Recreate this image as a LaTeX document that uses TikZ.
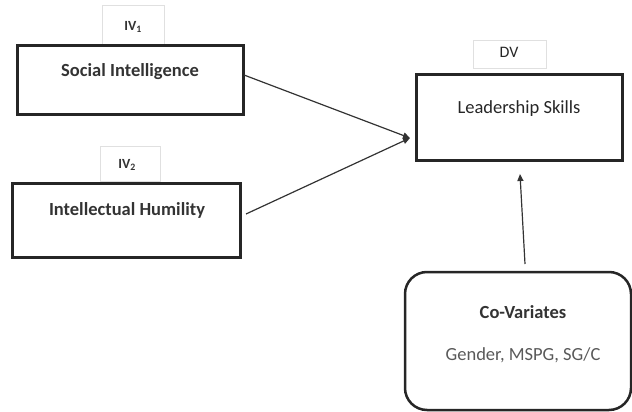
\documentclass[tikz,border=0pt]{standalone}
\usepackage{fontspec}
\setmainfont{Carlito}
\usetikzlibrary{arrows.meta}
\begin{document}
\begin{tikzpicture}[x=1pt,y=-1pt,
  varbox/.style={draw=black!85, line width=3pt},
  lblbox/.style={draw=black!12, line width=0.5pt},
  conn/.style={draw=black!80, line width=1.2pt, -{Triangle[length=7pt,width=6pt]}},
  txt/.style={font=\fontsize{18.5}{20}\selectfont, text=black!85},
  btxt/.style={font=\fontsize{18.5}{20}\selectfont\bfseries, text=black!80},
  lbl/.style={font=\fontsize{14}{16}\selectfont\bfseries, text=black!80}]
\useasboundingbox (0,0) rectangle (632,412);
% label boxes
\draw[lblbox] (102,5) rectangle (164,44);
\node[lbl] (iv1) at (133,27) {IV\textsubscript{1}};
\draw[lblbox] (100,146) rectangle (160,181);
\node[lbl] (iv2) at (127,165) {IV\textsubscript{2}};
\draw[lblbox] (473,40) rectangle (546,68);
\node[txt, font=\fontsize{16}{18}\selectfont] (dv) at (509,52) {DV};
% variable boxes
\draw[varbox] (17,46) rectangle (243,114);
\node[btxt] (si) at (130,72) {Social Intelligence};
\coordinate (sio) at (244,75);
\draw[varbox] (12,183) rectangle (240,257);
\node[btxt] (ih) at (127,210) {Intellectual Humility};
\coordinate (iho) at (246,214);
\draw[varbox] (416,75) rectangle (622,160);
\node[txt] (ls) at (519,109) {Leadership Skills};
\coordinate (lsin) at (410,138);
\coordinate (lsbot) at (520,174);
% covariates
\draw[draw=black!85, line width=2.5pt, rounded corners=22pt] (405,272) rectangle (631,410);
\node[btxt] (cv) at (523,312) {Co-Variates};
\node[txt, text=black!65] (cvl) at (523,355) {Gender, MSPG, SG/C};
\coordinate (cvt) at (525,264);
% connectors
\draw[conn] (sio) -- (lsin);
\draw[conn] (iho) -- (lsin);
\draw[conn] (cvt) -- (lsbot);
\end{tikzpicture}
\end{document}
